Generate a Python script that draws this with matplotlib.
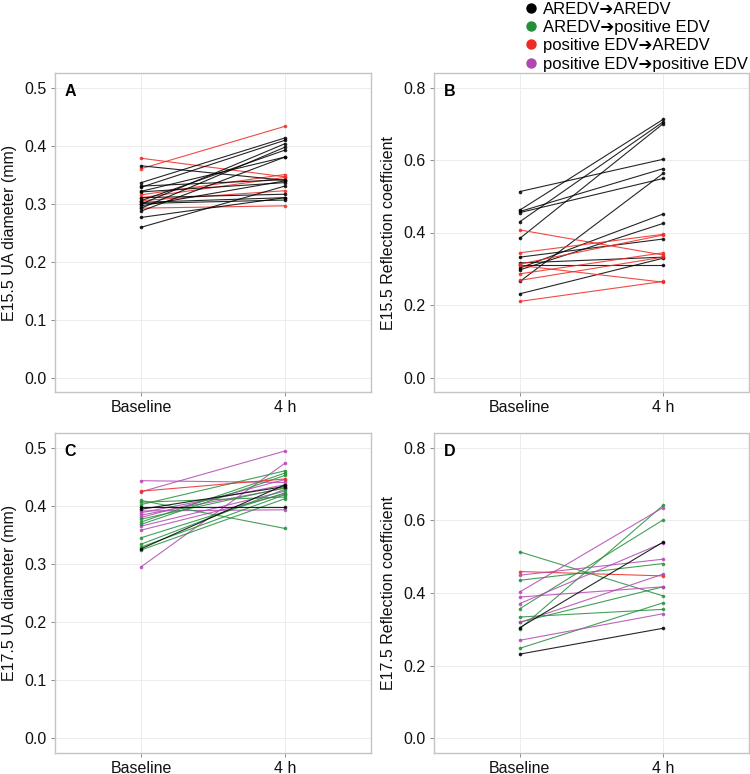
import matplotlib.pyplot as plt
from matplotlib.lines import Line2D

plt.rcParams['font.family'] = ['Liberation Sans', 'DejaVu Sans']

# group codes: AA = AREDV->AREDV, AP = AREDV->positive EDV,
# PA = positive EDV->AREDV, PP = positive EDV->positive EDV
GROUP_COLORS = {"AA": "#000000", "AP": "#23903a", "PA": "#ee2a24", "PP": "#b148b1"}
GROUP_LABELS = {
    "AA": "AREDV\u2794AREDV",
    "AP": "AREDV\u2794positive EDV",
    "PA": "positive EDV\u2794AREDV",
    "PP": "positive EDV\u2794positive EDV",
}
time_labels = ["Baseline", "4 h"]

# panel A: E15.5 UA diameter (mm)
a_base = [0.360, 0.378, 0.315, 0.305, 0.292, 0.310,
          0.365, 0.259, 0.276, 0.336, 0.328, 0.321, 0.299, 0.292,
          0.305, 0.287, 0.330, 0.300, 0.310, 0.320, 0.296, 0.302]
a_4h = [0.433, 0.346, 0.350, 0.322, 0.296, 0.345,
        0.340, 0.330, 0.310, 0.413, 0.409, 0.380, 0.403, 0.397,
        0.392, 0.380, 0.341, 0.306, 0.316, 0.336, 0.339, 0.310]
a_grp = ["PA"] * 6 + ["AA"] * 16

# panel B: E15.5 reflection coefficient
b_base = [0.513, 0.458, 0.455, 0.462, 0.430, 0.384, 0.265, 0.302, 0.297,
          0.332, 0.316, 0.309, 0.231,
          0.407, 0.344, 0.313, 0.309, 0.286, 0.268, 0.210]
b_4h = [0.602, 0.576, 0.549, 0.712, 0.705, 0.700, 0.563, 0.451, 0.425,
        0.382, 0.332, 0.309, 0.329,
        0.338, 0.395, 0.393, 0.263, 0.344, 0.332, 0.265]
b_grp = ["AA"] * 13 + ["PA"] * 7

# panel C: E17.5 UA diameter (mm)
c_base = [0.424, 0.295, 0.443, 0.358, 0.391, 0.384, 0.380, 0.388, 0.365,
          0.409, 0.406, 0.402, 0.372, 0.368, 0.345, 0.334, 0.329, 0.324, 0.377,
          0.425,
          0.397, 0.326, 0.394]
c_4h = [0.494, 0.473, 0.440, 0.420, 0.393, 0.430, 0.445, 0.436, 0.425,
        0.361, 0.415, 0.460, 0.456, 0.452, 0.422, 0.428, 0.419, 0.412, 0.431,
        0.446,
        0.397, 0.436, 0.433]
c_grp = ["PP"] * 9 + ["AP"] * 10 + ["PA"] + ["AA"] * 3

# panel D: E17.5 reflection coefficient
d_base = [0.513, 0.435, 0.357, 0.334, 0.302, 0.248, 0.320,
          0.459,
          0.449, 0.403, 0.389, 0.371, 0.319, 0.270,
          0.305, 0.232]
d_4h = [0.392, 0.481, 0.601, 0.355, 0.641, 0.373, 0.417,
        0.447,
        0.493, 0.635, 0.417, 0.538, 0.452, 0.343,
        0.540, 0.303]
d_grp = ["AP"] * 7 + ["PA"] + ["PP"] * 6 + ["AA"] * 2

W, H = 750, 774
fig = plt.figure(figsize=(W / 100, H / 100), dpi=100)


def px_axes(left, top, right, bottom):
    return fig.add_axes([left / W, 1 - bottom / H, (right - left) / W, (bottom - top) / H])


def draw_panel(ax, base, after, grp, ymax, ystep, ylabel, letter):
    for b, a, g in zip(base, after, grp):
        ax.plot([1, 2], [b, a], color=GROUP_COLORS[g], lw=0.8, alpha=0.85,
                marker="o", markersize=2.6, markeredgewidth=0, zorder=3)
    ax.set_xlim(0.4, 2.6)
    ax.set_ylim(-ymax * 0.05, ymax * 1.05)
    ticks = [round(i * ystep, 2) for i in range(int(round(ymax / ystep)) + 1)]
    ax.set_yticks(ticks)
    ax.set_yticklabels([f"{t:.1f}" for t in ticks])
    ax.set_xticks([1, 2])
    ax.set_xticklabels(time_labels)
    ax.grid(True, color="#ececec", lw=0.7)
    ax.set_axisbelow(True)
    for s in ax.spines.values():
        s.set_color("#c4c4c4")
        s.set_linewidth(1.0)
    ax.tick_params(length=3, width=0.7, color="#8a8a8a", labelsize=11.5,
                   labelcolor="#111111", pad=3)
    ax.set_ylabel(ylabel, fontsize=11.5, color="#111111", labelpad=5)
    ax.text(0.03, 0.965, letter, transform=ax.transAxes, fontsize=11.5,
            fontweight="bold", va="top", ha="left")


ax_a = px_axes(55, 73, 371, 392)
ax_b = px_axes(434, 73, 749, 392)
ax_c = px_axes(55, 433, 371, 753)
ax_d = px_axes(434, 433, 749, 753)

draw_panel(ax_a, a_base, a_4h, a_grp, 0.5, 0.1, "E15.5 UA diameter (mm)", "A")
draw_panel(ax_b, b_base, b_4h, b_grp, 0.8, 0.2, "E15.5 Reflection coefficient", "B")
draw_panel(ax_c, c_base, c_4h, c_grp, 0.5, 0.1, "E17.5 UA diameter (mm)", "C")
draw_panel(ax_d, d_base, d_4h, d_grp, 0.8, 0.2, "E17.5 Reflection coefficient", "D")

handles = [Line2D([], [], ls="none", marker="o", markersize=7.5,
                  markerfacecolor=GROUP_COLORS[g], markeredgewidth=0)
           for g in GROUP_LABELS]
fig.legend(handles, list(GROUP_LABELS.values()), loc="upper left",
           bbox_to_anchor=(513 / W, 1 + 10 / H), frameon=False, fontsize=12,
           handletextpad=0.3, labelspacing=0.2, borderpad=0.2,
           handlelength=0.8)

fig.savefig("out.png", dpi=100)
